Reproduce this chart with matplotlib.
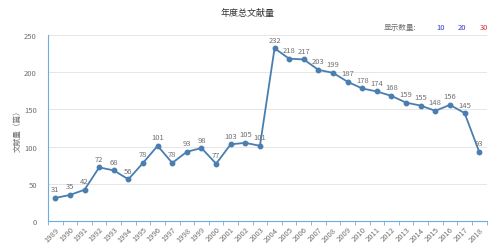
import matplotlib.pyplot as plt
import numpy as np

plt.rcParams['font.family'] = ['Noto Sans CJK SC', 'DejaVu Sans']

years = [str(y) for y in range(1989, 2019)]
counts = [31, 35, 42, 72, 68, 56, 78, 101, 78, 93, 98, 77, 103, 105, 101,
          232, 218, 217, 203, 199, 187, 178, 174, 168, 159, 155, 148, 156, 145, 93]
yticks = [0, 50, 100, 150, 200, 250]

line_color = '#4a7eb0'
axis_color = '#6aaee0'
text_color = '#707070'

fig = plt.figure(figsize=(5, 2.51), dpi=100)
ax = fig.add_axes([0.096, 0.1155, 0.877, 0.7415])

x = np.arange(len(years))
ax.plot(x, counts, color=line_color, lw=1.3, marker='o', ms=3.2, zorder=3)
for xi, v in zip(x, counts):
    ax.text(xi, v + 6, str(v), ha='center', va='bottom', fontsize=5.5, color=text_color)

ax.set_xlim(-0.5, len(years) - 0.5)
ax.set_ylim(0, 250)
ax.set_yticks(yticks)
ax.set_yticklabels([str(t) for t in yticks], fontsize=5.5, color=text_color)
ax.set_xticks(x)
ax.set_xticklabels(years, rotation=45, fontsize=5.5, color=text_color, ha='right',
                   rotation_mode='anchor')
ax.set_xticks(np.arange(-0.5, len(years)), minor=True)
ax.tick_params(axis='x', which='major', length=0, pad=3)
ax.tick_params(axis='x', which='minor', length=3, color=axis_color)
ax.tick_params(axis='y', length=0, pad=8)
ax.grid(axis='y', color='#e6e6e6', lw=0.7)
ax.set_axisbelow(True)
for s in ['top', 'right']:
    ax.spines[s].set_visible(False)
ax.spines['left'].set_color(axis_color)
ax.spines['bottom'].set_color(axis_color)
ax.set_ylabel('文献量（篇）', fontsize=5.5, color=text_color, labelpad=2)

fig.text(0.496, 0.945, '年度总文献量', ha='center', va='center', fontsize=6.5, color='#333333')
fig.text(0.80, 0.89, '显示数量:', ha='center', va='center', fontsize=5.5, color=text_color)
fig.text(0.881, 0.89, '10', ha='center', va='center', fontsize=5.5, color='#3a3ad0')
fig.text(0.923, 0.89, '20', ha='center', va='center', fontsize=5.5, color='#3a3ad0')
fig.text(0.967, 0.89, '30', ha='center', va='center', fontsize=5.5, color='#e03030')

fig.savefig('out.png', dpi=100)
